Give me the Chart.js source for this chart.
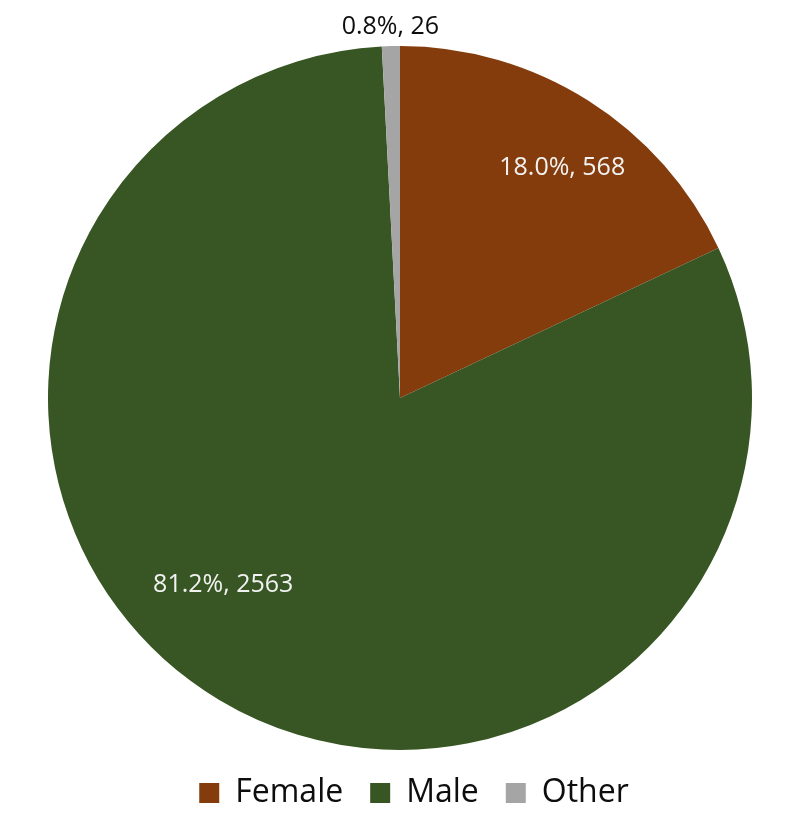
<!DOCTYPE html>
<html>
<head>
<meta charset="utf-8">
<script src="https://cdn.jsdelivr.net/npm/chart.js@4.4.1/dist/chart.umd.min.js"></script>
<style>
html,body{margin:0;padding:0;background:#fff;}
#wrap{width:800px;height:824px;}
</style>
</head>
<body>
<div id="wrap"><canvas id="c" width="800" height="824"></canvas></div>
<script>
const categories = ["Female", "Male", "Other"];
const counts = [568, 2563, 26];
const percentLabels = ["18.0%", "81.2%", "0.8%"];
const colors = ["#843C0C", "#375623", "#A5A5A5"];

// label placement: fraction along the arc, radius fraction, colour
const labelPlacement = [
  {t: 0.543, r: 0.80, color: "#F2F2F2"},
  {t: 0.543, r: 0.73, color: "#F2F2F2"},
  {t: 0.5, r: 1.055, color: "#0D0D0D"}
];

const labelPlugin = {
  id: 'sliceLabels',
  afterDatasetsDraw(chart) {
    const ctx = chart.ctx;
    const meta = chart.getDatasetMeta(0);
    ctx.save();
    ctx.font = '25px "Open Sans", sans-serif';
    ctx.textAlign = 'center';
    ctx.textBaseline = 'middle';
    meta.data.forEach((arc, i) => {
      const p = arc.getProps(['x','y','startAngle','endAngle','outerRadius'], true);
      const pl = labelPlacement[i];
      const a = p.startAngle + (p.endAngle - p.startAngle) * pl.t;
      const rr = p.outerRadius * pl.r;
      const x = p.x + Math.cos(a) * rr;
      const y = p.y + Math.sin(a) * rr;
      ctx.fillStyle = pl.color;
      ctx.fillText(percentLabels[i] + ', ' + counts[i], x, y);
    });
    ctx.restore();
  }
};

// nudge the legend a little to the right, as in the reference
const legendShift = {
  id: 'legendShift',
  afterLayout(chart) {
    if (chart.legend) {
      chart.legend.left += 14;
      chart.legend.right += 14;
    }
  }
};

new Chart(document.getElementById('c'), {
  type: 'pie',
  data: {
    labels: categories,
    datasets: [{
      data: counts,
      backgroundColor: colors,
      borderWidth: 0
    }]
  },
  options: {
    responsive: false,
    animation: false,
    layout: {padding: {top: 46, bottom: 5, left: 0, right: 0}},
    plugins: {
      tooltip: {enabled: false},
      legend: {
        position: 'bottom',
        labels: {
          boxWidth: 20,
          boxHeight: 20,
          padding: 27,
          color: '#0D0D0D',
          font: {family: '"Open Sans", sans-serif', size: 32}
        }
      }
    }
  },
  plugins: [labelPlugin, legendShift]
});
</script>
</body>
</html>
